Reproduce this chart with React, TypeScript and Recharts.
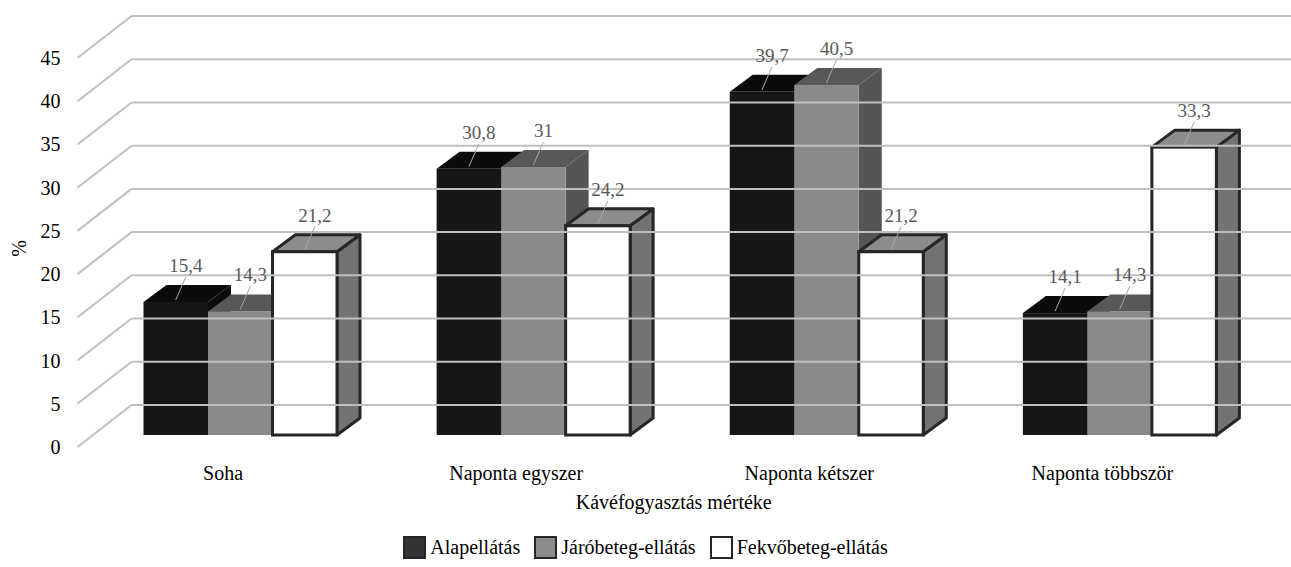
import { BarChart, Bar, XAxis, YAxis, LabelList } from "recharts";

const W = 1291;
const H = 567;
const FONT = "Liberation Serif, Tinos, Times New Roman, DejaVu Serif, serif";

// Kávéfogyasztás mértéke szerinti megoszlás (%)
const categories = ["Soha", "Naponta egyszer", "Naponta kétszer", "Naponta többször"];
const alapellatas = [15.4, 30.8, 39.7, 14.1];
const jarobeteg = [14.3, 31, 40.5, 14.3];
const fekvobeteg = [21.2, 24.2, 21.2, 33.3];
const yTicks = [0, 5, 10, 15, 20, 25, 30, 35, 40, 45];

const seriesNames = ["Alapellátás", "Járóbeteg-ellátás", "Fekvőbeteg-ellátás"];
const xTitle = "Kávéfogyasztás mértéke";
const yTitle = "%";

const data = categories.map((name, i) => ({
  name,
  a: alapellatas[i],
  b: jarobeteg[i],
  c: fekvobeteg[i],
}));

// depth of the 3d boxes
const DX = 23;
const DY = 17;

type Look = { front: string; top: string; side: string; stroke?: string };

const looks: Look[] = [
  { front: "#161616", top: "#0b0b0b", side: "#0b0b0b" },
  { front: "#8a8a8a", top: "#585858", side: "#555555" },
  { front: "#ffffff", top: "#8c8c8c", side: "#737373", stroke: "#262626" },
];

const box = (look: Look) => (props: any) => {
  const { x, y, width: w, height: h } = props;
  if (h == null || w == null) return null;
  const sw = look.stroke ? 3 : 0;
  const st = look.stroke || "none";
  return (
    <g>
      <polygon
        points={`${x + w},${y} ${x + w + DX},${y - DY} ${x + w + DX},${y + h - DY} ${x + w},${y + h}`}
        fill={look.side}
        stroke={st}
        strokeWidth={sw}
        strokeLinejoin="round"
      />
      <polygon
        points={`${x},${y} ${x + DX},${y - DY} ${x + w + DX},${y - DY} ${x + w},${y}`}
        fill={look.top}
        stroke={st}
        strokeWidth={sw}
        strokeLinejoin="round"
      />
      <rect x={x} y={y} width={w} height={h} fill={look.front} stroke={st} strokeWidth={sw} />
    </g>
  );
};

const valueLabel = (props: any) => {
  const { x, y, width, value } = props;
  const cx = x + width / 2;
  return (
    <g>
      <line x1={cx} y1={y - 2} x2={cx + 10} y2={y - 25} stroke="#a6a6a6" strokeWidth={1} />
      <text
        x={cx + 10}
        y={y - 30}
        textAnchor="middle"
        style={{ fontFamily: FONT }}
        fontSize={19}
        fill="#595959"
      >
        {String(value).replace(".", ",")}
      </text>
    </g>
  );
};

const YTick = (props: any) => {
  const { x, y, payload } = props;
  return (
    <g>
      <line x1={x - 16} y1={y + 12} x2={x + 38} y2={y - 30} stroke="#bfbfbf" strokeWidth={2} />
      <line x1={x + 38} y1={y - 30} x2={W} y2={y - 30} stroke="#bfbfbf" strokeWidth={2} />
      <text x={x - 33} y={y + 19} textAnchor="end" style={{ fontFamily: FONT }} fontSize={20} fill="#000">
        {payload.value}
      </text>
    </g>
  );
};

const XTick = (props: any) => {
  const { x, y, payload } = props;
  return (
    <text x={x - 17} y={y + 45} textAnchor="middle" style={{ fontFamily: FONT }} fontSize={20} fill="#000">
      {payload.value}
    </text>
  );
};

const legendSwatch = ["#333333", "#8c8c8c", "#ffffff"];

export default function App() {
  return (
    <div style={{ position: "absolute", left: 0, top: 0, width: W, height: H, background: "#fff" }}>
      <BarChart
        width={W}
        height={H}
        data={data}
        margin={{ top: 46, right: 25, bottom: 52, left: 33.5 }}
        barGap={0}
        barSize={64.5}
        style={{ fontFamily: FONT }}
      >
        <YAxis
          domain={[0, 45]}
          ticks={yTicks}
          width={60}
          tickSize={0}
          tickMargin={0}
          axisLine={false}
          tickLine={false}
          tick={<YTick />}
          label={{
            content: (p: any) => {
              const vb = p.viewBox;
              const cx = vb.x - 15;
              const cy = vb.y + vb.height / 2 + 8;
              return (
                <text
                  x={cx}
                  y={cy}
                  transform={`rotate(-90, ${cx}, ${cy})`}
                  textAnchor="middle"
                  dominantBaseline="central"
                  style={{ fontFamily: FONT }}
                  fontSize={20}
                  fill="#000"
                >
                  {yTitle}
                </text>
              );
            },
          }}
        />
        <XAxis
          dataKey="name"
          height={80}
          tickSize={0}
          tickMargin={0}
          axisLine={false}
          tickLine={false}
          tick={<XTick />}
          label={{
            content: (p: any) => {
              const vb = p.viewBox;
              return (
                <text
                  x={vb.x + vb.width / 2 - 6}
                  y={vb.y + 74}
                  textAnchor="middle"
                  style={{ fontFamily: FONT }}
                  fontSize={20}
                  fill="#000"
                >
                  {xTitle}
                </text>
              );
            },
          }}
        />
        <Bar dataKey="a" name={seriesNames[0]} shape={box(looks[0])} isAnimationActive={false}>
          <LabelList dataKey="a" content={valueLabel} />
        </Bar>
        <Bar dataKey="b" name={seriesNames[1]} shape={box(looks[1])} isAnimationActive={false}>
          <LabelList dataKey="b" content={valueLabel} />
        </Bar>
        <Bar dataKey="c" name={seriesNames[2]} shape={box(looks[2])} isAnimationActive={false}>
          <LabelList dataKey="c" content={valueLabel} />
        </Bar>
      </BarChart>
      <div
        style={{
          position: "absolute",
          top: 536,
          left: 0,
          width: W,
          display: "flex",
          justifyContent: "center",
          fontFamily: FONT,
          fontSize: 20,
          color: "#000",
        }}
      >
        {seriesNames.map((n, i) => (
          <div key={n} style={{ display: "flex", alignItems: "center", marginRight: i < 2 ? 14 : 0 }}>
            <span
              style={{
                display: "inline-block",
                width: 19,
                height: 19,
                background: legendSwatch[i],
                border: "2px solid #262626",
                marginRight: 4,
              }}
            />
            <span>{n}</span>
          </div>
        ))}
      </div>
    </div>
  );
}
